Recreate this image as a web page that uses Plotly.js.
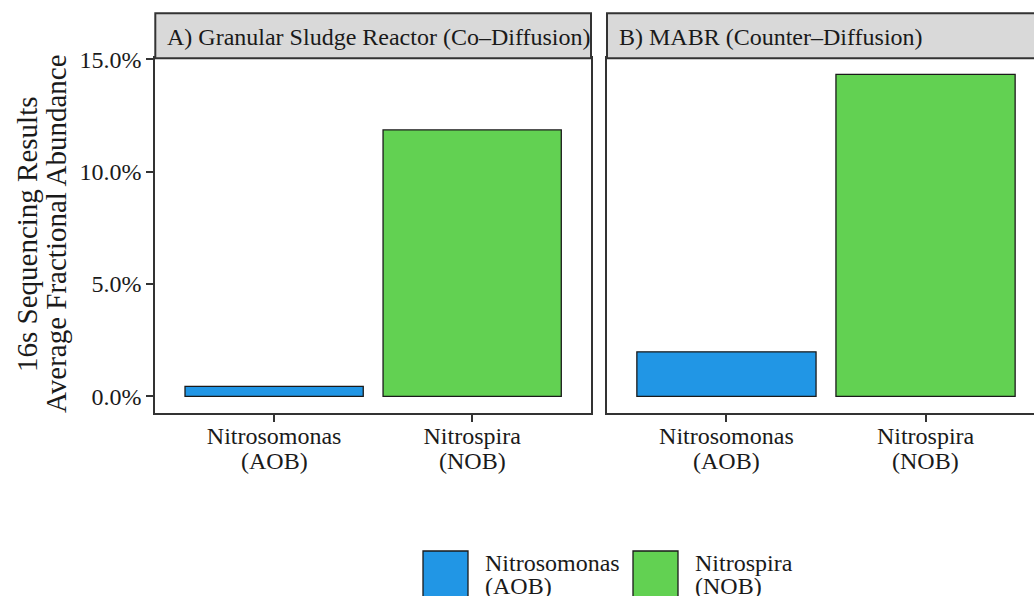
<!DOCTYPE html>
<html>
<head>
<meta charset="utf-8">
<script src="https://cdn.plot.ly/plotly-3.0.1.min.js"></script>
<style>
  html, body { margin: 0; padding: 0; overflow: hidden; background: #ffffff; }
  #chart { width: 1050px; height: 610px; }
</style>
</head>
<body>
<div id="chart"></div>
<script>
// Facet titles, taxa and their guild labels
const panels = ['A) Granular Sludge Reactor (Co\u2013Diffusion)', 'B) MABR (Counter\u2013Diffusion)'];
const taxa = ['Nitrosomonas', 'Nitrospira'];
const guilds = ['(AOB)', '(NOB)'];
// Average fractional abundance (16s sequencing) per reactor
const granularSludge = [0.0044, 0.1186];
const mabr = [0.0198, 0.1433];
const yTicks = [0, 0.05, 0.10, 0.15];
const fillColors = ['#2196E5', '#62D152'];

const W = 1050, H = 610;
const px = p => p / W;          // horizontal pixel -> paper
const py = p => 1 - p / H;      // vertical pixel -> paper

const FONT = 'Liberation Serif, Times New Roman, Times, serif';
const INK = '#1a1a1a';
const FRAME = '#333333';
const TXT = 24;

function barTrace(values, xa, ya) {
  return {
    type: 'bar', x: taxa, y: values, xaxis: xa, yaxis: ya,
    width: 0.9,
    marker: { color: fillColors, line: { color: INK, width: 1.3 } },
    showlegend: false, hoverinfo: 'x+y'
  };
}

const data = [
  barTrace(granularSludge, 'x', 'y'),
  barTrace(mabr, 'x2', 'y2')
];

const yMin = -0.0072, yMax = 0.1505;

function xAxis(domain, anchor) {
  return {
    domain: domain, anchor: anchor, type: 'category', categoryarray: taxa,
    range: [-0.6, 1.6], showgrid: false, zeroline: false,
    showline: true, mirror: true, linecolor: FRAME, linewidth: 2,
    ticks: 'outside', ticklen: 7, tickwidth: 2, tickcolor: FRAME,
    tickfont: { family: FONT, size: TXT, color: INK },
    ticklabelstandoff: -6, fixedrange: true
  };
}
function yAxis(anchor, labels) {
  return {
    domain: [py(412.5), py(58.3)], anchor: anchor,
    range: [yMin, yMax], tickvals: yTicks, tickformat: '.1%',
    showgrid: false, zeroline: false,
    showline: true, mirror: true, linecolor: FRAME, linewidth: 2,
    ticks: labels ? 'outside' : '', ticklen: 7, tickwidth: 2, tickcolor: FRAME,
    showticklabels: labels,
    tickfont: { family: FONT, size: TXT, color: INK }, fixedrange: true
  };
}

const shapes = [];
const annotations = [];

// Facet strips
[['x', 0], ['x2', 1]].forEach(([xa, i]) => {
  shapes.push({
    type: 'rect', xref: xa + ' domain', yref: 'paper',
    x0: 0, x1: 1, y0: py(58.3), y1: py(13.3),
    fillcolor: '#D9D9D9', line: { color: FRAME, width: 2 }, layer: 'above'
  });
  annotations.push({
    xref: xa + ' domain', yref: 'paper', x: 0, xshift: 10, y: py(37), xanchor: 'left', yanchor: 'middle',
    text: panels[i], showarrow: false, font: { family: FONT, size: TXT, color: INK }
  });
  // second line of each category label
  taxa.forEach((t, j) => {
    annotations.push({
      xref: xa, yref: 'paper', x: t, y: py(461), xanchor: 'center', yanchor: 'middle',
      text: guilds[j], showarrow: false, font: { family: FONT, size: TXT, color: INK }
    });
  });
});

// Y axis title (two lines)
[['16s Sequencing Results', 27], ['Average Fractional Abundance', 56]].forEach(([txt, xp]) => {
  annotations.push({
    xref: 'paper', yref: 'paper', x: px(xp), y: py(234), xanchor: 'center', yanchor: 'middle',
    text: txt, textangle: -90, showarrow: false, font: { family: FONT, size: 29, color: INK }
  });
});

// Legend
const legendLeft = [423, 633];
taxa.forEach((t, i) => {
  const x0 = legendLeft[i];
  shapes.push({
    type: 'rect', xref: 'paper', yref: 'paper',
    x0: px(x0), x1: px(x0 + 45), y0: py(597), y1: py(551),
    fillcolor: fillColors[i], line: { color: INK, width: 1.3 }
  });
  annotations.push({
    xref: 'paper', yref: 'paper', x: px(x0 + 60), y: py(563), xanchor: 'left', yanchor: 'middle',
    text: t, showarrow: false, font: { family: FONT, size: TXT, color: INK }
  });
  annotations.push({
    xref: 'paper', yref: 'paper', x: px(x0 + 60), y: py(586), xanchor: 'left', yanchor: 'middle',
    text: guilds[i], showarrow: false, font: { family: FONT, size: TXT, color: INK }
  });
});

const layout = {
  width: W, height: H,
  margin: { l: 0, r: 0, t: 0, b: 0 },
  paper_bgcolor: '#ffffff', plot_bgcolor: '#ffffff',
  font: { family: FONT, color: INK },
  bargap: 0,
  xaxis: xAxis([px(155.3), px(591)], 'y'),
  xaxis2: xAxis([px(607), px(1045)], 'y2'),
  yaxis: yAxis('x', true),
  yaxis2: yAxis('x2', false),
  shapes: shapes,
  annotations: annotations,
  showlegend: false
};

Plotly.newPlot('chart', data, layout, { displayModeBar: false, staticPlot: true });
</script>
</body>
</html>
